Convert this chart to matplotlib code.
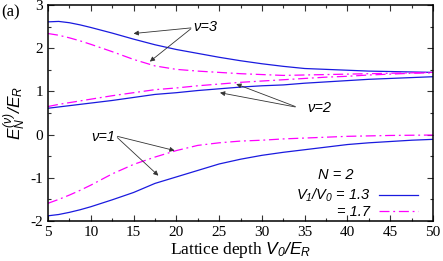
import matplotlib
matplotlib.use("Agg")
import matplotlib.pyplot as plt
from matplotlib.ticker import MultipleLocator

plt.rcParams['axes.unicode_minus'] = False
plt.rcParams['mathtext.fontset'] = 'custom'
plt.rcParams['mathtext.rm'] = 'Liberation Sans:italic'
plt.rcParams['mathtext.it'] = 'Liberation Sans:italic'
plt.rcParams['mathtext.bf'] = 'Liberation Sans:italic'

V0 = [5, 6.25, 7.5, 8.75, 10, 12.5, 15, 17.5, 20, 22.5, 25, 27.5, 30, 32.5, 35, 37.5, 40, 42.5, 45, 47.5, 50]

# V1/V0 = 1.3 (solid blue)
b1 = [-1.88, -1.85, -1.80, -1.74, -1.67, -1.51, -1.34, -1.13, -0.98, -0.83, -0.68, -0.57, -0.48, -0.41, -0.35, -0.29, -0.23, -0.19, -0.16, -0.13, -0.11]
b2 = [0.61, 0.64, 0.67, 0.70, 0.73, 0.79, 0.86, 0.93, 0.97, 1.02, 1.06, 1.10, 1.13, 1.15, 1.19, 1.22, 1.25, 1.28, 1.30, 1.32, 1.34]
b3 = [2.61, 2.62, 2.59, 2.54, 2.48, 2.35, 2.21, 2.08, 1.97, 1.88, 1.79, 1.71, 1.64, 1.58, 1.53, 1.51, 1.49, 1.47, 1.46, 1.45, 1.44]

# V1/V0 = 1.7 (dash-dot magenta)
m1 = [-1.59, -1.50, -1.40, -1.29, -1.17, -0.91, -0.69, -0.52, -0.37, -0.25, -0.19, -0.15, -0.13, -0.10, -0.08, -0.06, -0.04, -0.03, -0.02, -0.015, -0.01]
m2 = [0.65, 0.70, 0.74, 0.78, 0.82, 0.90, 0.97, 1.04, 1.08, 1.13, 1.17, 1.21, 1.24, 1.27, 1.30, 1.33, 1.35, 1.38, 1.40, 1.42, 1.43]
m3 = [2.34, 2.30, 2.24, 2.17, 2.09, 1.92, 1.74, 1.59, 1.51, 1.47, 1.44, 1.41, 1.39, 1.37, 1.38, 1.39, 1.40, 1.41, 1.42, 1.43, 1.44]

labels = [r"$V_1/V_0$ = 1.3", "= 1.7"]

blue = '#1a1adf'
mag = '#ff00ff'
dd = (0, (8, 3, 1.5, 3))

fig = plt.figure(figsize=(4.43, 2.61), dpi=100)
ax = fig.add_axes([0.1084, 0.1533, 0.8691, 0.8275])

l1, = ax.plot(V0, b1, color=blue, lw=0.9, label=labels[0])
ax.plot(V0, b2, color=blue, lw=0.9)
ax.plot(V0, b3, color=blue, lw=0.9)
l2, = ax.plot(V0, m1, color=mag, lw=0.9, ls=dd, label=labels[1])
ax.plot(V0, m2, color=mag, lw=0.9, ls=dd)
ax.plot(V0, m3, color=mag, lw=0.9, ls=dd)

ax.set_xlim(5, 50)
ax.set_ylim(-2, 3)
ax.xaxis.set_major_locator(MultipleLocator(5))
ax.xaxis.set_minor_locator(MultipleLocator(2.5))
ax.yaxis.set_major_locator(MultipleLocator(1))
ax.yaxis.set_minor_locator(MultipleLocator(0.5))
ax.tick_params(which='both', direction='in', top=True, right=True, width=0.8, color='#333333')
ax.tick_params(which='major', length=4.5, pad=3.5)
ax.tick_params(which='minor', length=2.2)
for lab in ax.get_xticklabels() + ax.get_yticklabels():
    lab.set_family('Liberation Serif')
    lab.set_fontsize(11)
for s in ax.spines.values():
    s.set_linewidth(1.1)

ax.set_xlabel("Lattice depth $V_0/E_R$", family='Liberation Serif', fontsize=12.5, labelpad=1)
ax.set_ylabel(r"$E_N^{(\nu)}/E_R$", fontsize=12.5, labelpad=2)

fig.text(0.003, 0.985, "(a)", family='Liberation Serif', fontsize=12, va='top', ha='left')

ap = dict(arrowstyle='-|>', lw=0.6, color='#333333', mutation_scale=7, shrinkA=0, shrinkB=0)
tf = dict(family='Liberation Sans', style='italic', fontsize=10.5)

ax.text(22.0, 2.50, "ν=3", ha='left', va='center', **tf)
ax.annotate("", xy=(15.0, 2.34), xytext=(21.7, 2.47), arrowprops=ap)
ax.annotate("", xy=(16.9, 1.69), xytext=(21.7, 2.45), arrowprops=ap)

ax.text(35.3, 0.62, "ν=2", ha='left', va='center', **tf)
ax.annotate("", xy=(27.0, 1.17), xytext=(33.9, 0.65), arrowprops=ap)
ax.annotate("", xy=(25.1, 0.97), xytext=(33.9, 0.64), arrowprops=ap)

ax.text(10.1, -0.05, "ν=1", ha='left', va='center', **tf)
ax.annotate("", xy=(19.8, -0.37), xytext=(13.1, -0.04), arrowprops=ap)
ax.annotate("", xy=(17.9, -0.95), xytext=(13.1, -0.07), arrowprops=ap)

ax.text(38.6, -0.93, "N = 2", ha='center', va='center', **tf)
leg = ax.legend(handles=[l1, l2], labels=labels, loc='lower right', bbox_to_anchor=(0.962, 0.01),
                frameon=False, markerfirst=False, handlelength=2.7, handletextpad=0.6,
                labelspacing=0.05, borderpad=0, borderaxespad=0,
                prop=dict(family='Liberation Sans', style='italic', size=10.5))

fig.savefig("out.png", dpi=100)
